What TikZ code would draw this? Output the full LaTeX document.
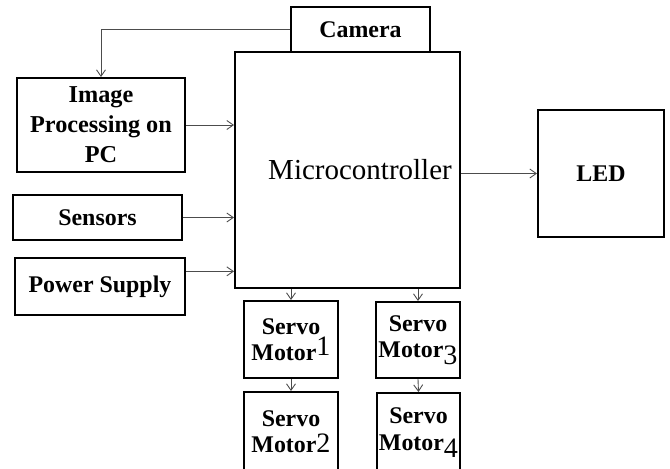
\documentclass[tikz,border=0pt]{standalone}
\usepackage{fontspec}
\setmainfont{Liberation Serif}
\usetikzlibrary{arrows.meta,positioning}

\begin{document}
\begin{tikzpicture}[x=0.02cm,y=-0.02cm]
	\tikzstyle{Block}  = [draw, line width=1.1pt, fill=white, inner sep=0pt, align=center, font=\fontsize{13.6}{15}\selectfont\bfseries]
	\tikzstyle{Link}   = [draw=black!70, line width=0.5pt, -{Straight Barb[length=1.3mm,width=1.8mm]}]

	\useasboundingbox (0,0) rectangle (670,468);

	\node (cam) at (360.5,29.5) [Block, minimum width=139*0.02cm, minimum height=45*0.02cm] {Camera};
	\node (mc)  at (347.5,170)  [Block, minimum width=225*0.02cm, minimum height=236*0.02cm, font=\fontsize{16.5}{20}\selectfont] {\hspace*{0.5cm}Microcontroller};

	\node (ip)   at (101,125)   [Block, minimum width=168*0.02cm, minimum height=94*0.02cm, font=\fontsize{13.8}{17}\selectfont\bfseries] {Image\\Processing on\\PC};
	\node (sens) at (97.5,217.5) [Block, minimum width=169*0.02cm, minimum height=45*0.02cm] {Sensors};
	\node (ps)   at (100,286.5) [Block, minimum width=170*0.02cm, minimum height=57*0.02cm] {Power Supply};

	\node (led) at (601,173.5) [Block, minimum width=126*0.02cm, minimum height=127*0.02cm] {LED};

	\node (s1) at (291,339.5)  [Block, minimum width=94*0.02cm, minimum height=77*0.02cm] {Servo\\Motor\raisebox{3pt}{\fontsize{16}{16}\selectfont\mdseries 1}};
	\node (s2) at (291,432)    [Block, minimum width=94*0.02cm, minimum height=80*0.02cm] {Servo\\Motor{\fontsize{16}{16}\selectfont\mdseries 2}};
	\node (s3) at (418,340)    [Block, minimum width=84*0.02cm, minimum height=76*0.02cm] {Servo\\Motor\raisebox{-4pt}{\fontsize{16}{16}\selectfont\mdseries 3}};
	\node (s4) at (418.5,432.5) [Block, minimum width=83*0.02cm, minimum height=79*0.02cm] {Servo\\Motor\raisebox{-4pt}{\fontsize{16}{16}\selectfont\mdseries 4}};

	\draw [Link] (cam.west) -| (ip.north);
	\draw [Link] (ip.east) -- (ip.east -| mc.west);
	\draw [Link] (sens.east) -- (sens.east -| mc.west);
	\draw [Link] (ps.10) -- (ps.10 -| mc.west);
	\draw [Link] (mc.east |- led.west) -- (led.west);
	\draw [Link] (mc.south -| s1.north) -- (s1.north);
	\draw [Link] (mc.south -| s3.north) -- (s3.north);
	\draw [Link] (s1.south) -- (s2.north);
	\draw [Link] (s3.south) -- (s4.north);
\end{tikzpicture}
\end{document}
